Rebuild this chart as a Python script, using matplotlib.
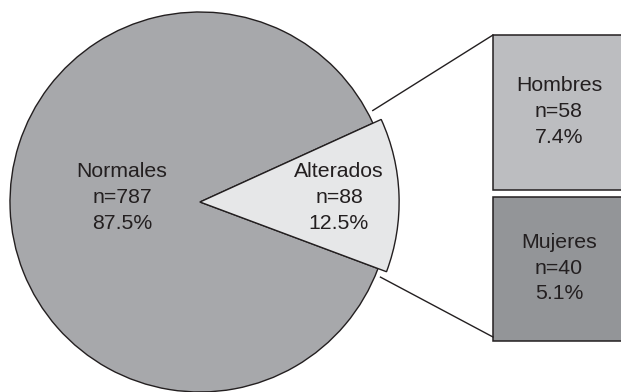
import numpy as np
import matplotlib
matplotlib.use("Agg")
import matplotlib.pyplot as plt
from matplotlib.patches import Rectangle

plt.rcParams['font.family'] = ['Liberation Sans', 'DejaVu Sans']

# Main split
categories = ['Normales', 'Alterados']
counts = [787, 88]
percents = [87.5, 12.5]

# Breakdown of the "Alterados" group
sub_categories = ['Hombres', 'Mujeres']
sub_counts = [58, 40]
sub_percents = [7.4, 5.1]

pie_colors = ['#a7a8ab', '#e6e7e8']
box_colors = ['#bcbdc0', '#939598']
ink = '#231f20'

W, H = 621, 392
fig = plt.figure(figsize=(W / 100, H / 100), dpi=100)
ax = fig.add_axes([0, 0, 1, 1])

cx, cy, r = 200, 190, 190
start = 24.5
wedges, _ = ax.pie(percents, center=(cx, cy), radius=r, startangle=start,
                   colors=pie_colors, counterclock=True,
                   wedgeprops=dict(edgecolor=ink, linewidth=1.0))
# the highlighted slice sticks out slightly beyond the rest of the pie
wedges[1].set_radius(r * 1.048)

fs = 15.3
ls = 1.45
for i, (name, n, p) in enumerate(zip(categories, counts, percents)):
    label = f"{name}\nn={n}\n{p:.1f}%"
    x = 122 if i == 0 else 339
    ax.text(x, 392 - 197.5, label, ha='center', va='center', fontsize=fs,
            color=ink, linespacing=ls)

# boxes for the breakdown
box_x0 = 493
box_spans = [(392 - 190, 392 - 35), (392 - 341, 392 - 197)]
for (y0, y1), name, n, p, col in zip(box_spans, sub_categories, sub_counts,
                                     sub_percents, box_colors):
    ax.add_patch(Rectangle((box_x0, y0), 200, y1 - y0, facecolor=col,
                           edgecolor=ink, linewidth=1.1, zorder=2))
    ax.text(559, (y0 + y1) / 2 + 1, f"{name}\nn={n}\n{p:.1f}%", ha='center',
            va='center', fontsize=fs, color=ink, linespacing=ls, zorder=3)

# connector lines from the slice to the boxes
a_top = np.deg2rad(start + 3.4)
a_bot = np.deg2rad(start - 360 * percents[1] / 100 - 2.1)
rl = 195.5
ax.plot([cx + rl * np.cos(a_top), box_x0], [cy + rl * np.sin(a_top), 392 - 35],
        color=ink, linewidth=1.0)
ax.plot([cx + rl * np.cos(a_bot), box_x0], [cy + rl * np.sin(a_bot), 392 - 337],
        color=ink, linewidth=1.0)

ax.set_xlim(0, W)
ax.set_ylim(0, H)
ax.set_aspect('equal')
ax.axis('off')

fig.savefig('out.png', dpi=100, facecolor='white')
